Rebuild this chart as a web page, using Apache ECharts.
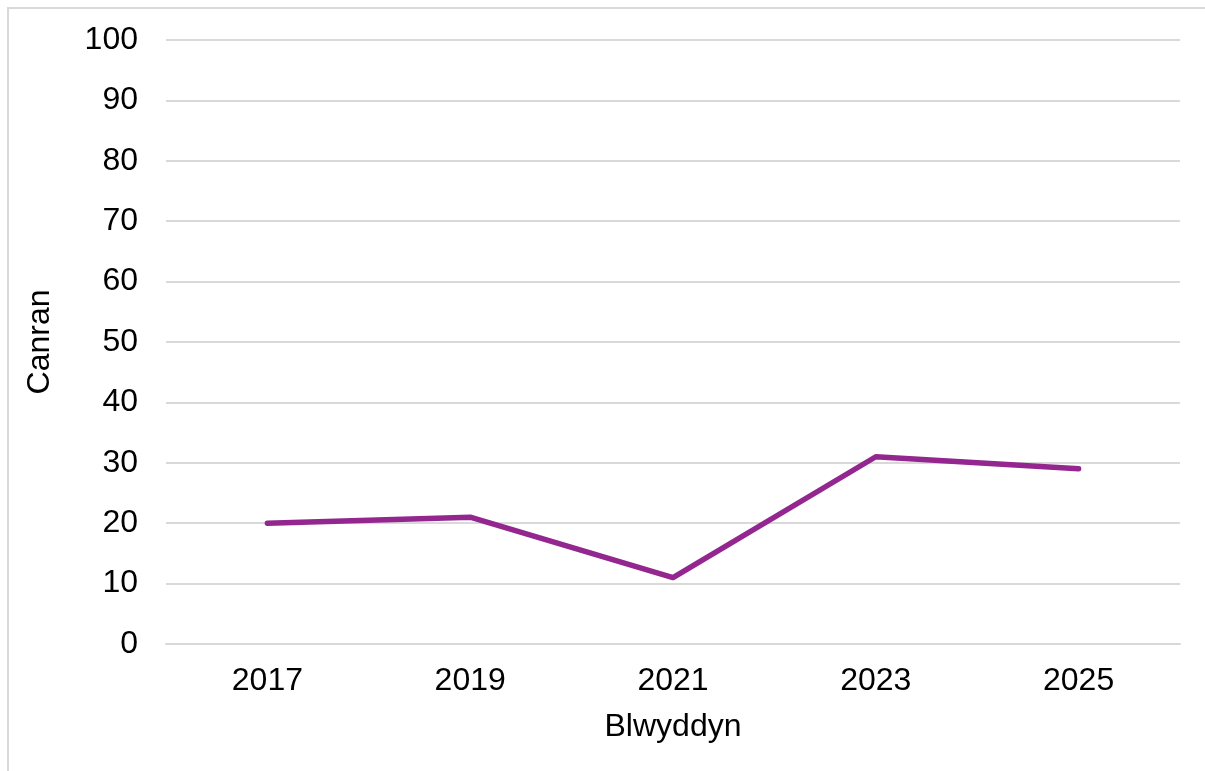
<!DOCTYPE html>
<html>
<head>
<meta charset="utf-8">
<script src="https://cdn.jsdelivr.net/npm/echarts@6/dist/echarts.min.js"></script>
<style>
html,body{margin:0;padding:0;background:#fff;}
#frame{position:absolute;left:7px;top:7px;width:1198px;height:764px;border-left:2px solid #d9d9d9;border-top:2px solid #d9d9d9;}
#chart{position:absolute;left:0;top:0;width:1205px;height:771px;}
</style>
</head>
<body>
<div id="frame"></div>
<div id="chart"></div>
<script>
const categories = ['2017', '2019', '2021', '2023', '2025'];
const values = [20, 21, 11, 31, 29];
const yMin = 0, yMax = 100, yStep = 10;

const chart = echarts.init(document.getElementById('chart'), null, {renderer: 'canvas'});
const font = 'Liberation Sans, Arial, sans-serif';
chart.setOption({
  animation: false,
  backgroundColor: 'transparent',
  grid: {left: 166, right: 25, top: 40, bottom: 127},
  xAxis: {
    type: 'category',
    data: categories,
    boundaryGap: true,
    name: 'Blwyddyn',
    nameLocation: 'middle',
    nameGap: 67,
    nameTextStyle: {fontFamily: font, fontSize: 32, color: '#000'},
    axisLine: {lineStyle: {color: '#d9d9d9', width: 2}},
    axisTick: {show: false},
    axisLabel: {fontFamily: font, fontSize: 32, color: '#000', margin: 21}
  },
  yAxis: {
    type: 'value',
    min: yMin, max: yMax, interval: yStep,
    name: 'Canran',
    nameLocation: 'middle',
    nameGap: 110,
    nameRotate: 90,
    nameTextStyle: {fontFamily: font, fontSize: 32, color: '#000'},
    axisLine: {show: false},
    axisTick: {show: false},
    axisLabel: {fontFamily: font, fontSize: 32, color: '#000', margin: 28},
    splitLine: {lineStyle: {color: '#d9d9d9', width: 2}}
  },
  series: [{
    type: 'line',
    data: values,
    symbol: 'none',
    lineStyle: {color: '#93278f', width: 5.5, cap: 'round', join: 'round'},
    itemStyle: {color: '#93278f'}
  }]
});
</script>
</body>
</html>
